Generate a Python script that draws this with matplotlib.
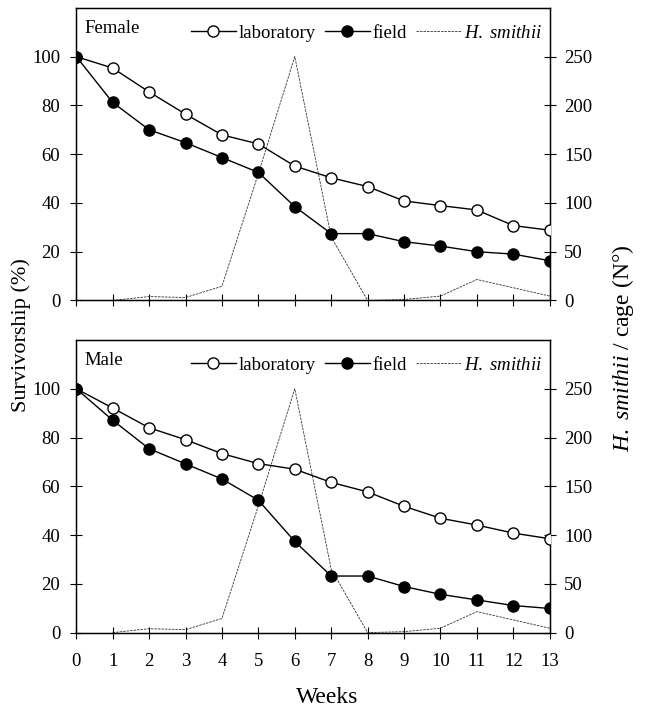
import matplotlib.pyplot as plt

plt.rcParams['font.family'] = ['Liberation Serif', 'DejaVu Serif']
plt.rcParams['mathtext.fontset'] = 'custom'
plt.rcParams['mathtext.rm'] = 'Liberation Serif'
plt.rcParams['mathtext.it'] = 'Liberation Serif:italic'

# Dados
semanas = list(range(14))
fem_lab = [100, 95.3, 85.5, 76.4, 67.9, 64.2, 55.1, 50.3, 46.7, 40.8, 38.9, 37.1, 30.7, 28.8]
fem_campo = [100, 81.2, 70.0, 64.7, 58.6, 52.5, 38.5, 27.4, 27.4, 24.1, 22.3, 20.0, 19.0, 16.3]
mac_lab = [100, 92.1, 84.0, 79.1, 73.4, 69.3, 67.0, 61.6, 57.7, 51.8, 46.9, 44.1, 40.8, 38.5]
mac_campo = [100, 87.1, 75.4, 69.2, 63.0, 54.3, 37.4, 23.2, 23.2, 18.9, 15.7, 13.4, 11.1, 9.9]
semanas_hs = list(range(1, 14))
hs = [0, 4, 3, 14.5, 130, 250, 65, 0, 1, 4.5, 21.5, 13, 4.5]

fig, axes = plt.subplots(2, 1, figsize=(6.46, 7.1), dpi=100, sharex=True)
fig.subplots_adjust(left=0.118, right=0.851, top=0.989, bottom=0.109, hspace=0.135)

paineis = [("Female", fem_lab, fem_campo), ("Male", mac_lab, mac_campo)]
for ax, (nome, lab, campo) in zip(axes, paineis):
    ax2 = ax.twinx()
    l3, = ax2.plot(semanas_hs, hs, color='#333333', lw=0.6, ls=(0, (3, 1.2)))
    ax2.set_ylim(0, 300)
    ax2.set_yticks([0, 50, 100, 150, 200, 250])
    ax2.tick_params(direction='inout', length=9, labelsize=13.5, pad=6)

    l1, = ax.plot(semanas, lab, '-o', color='black', mfc='white', mec='black',
                  ms=8, lw=1, zorder=5)
    l2, = ax.plot(semanas, campo, '-o', color='black', mfc='black',
                  ms=8, lw=1, zorder=5)
    ax.set_zorder(ax2.get_zorder() + 1)
    ax.patch.set_visible(False)
    ax.set_xlim(0, 13)
    ax.set_ylim(0, 120)
    ax.set_yticks([0, 20, 40, 60, 80, 100])
    ax.set_xticks(semanas)
    ax.tick_params(axis='y', direction='inout', length=9, labelsize=13.5, pad=7)
    ax.tick_params(axis='x', direction='inout', length=9, labelsize=13.5, pad=10)
    ax.text(0.018, 0.96, nome, transform=ax.transAxes, fontsize=13.5, va='top')
    ax.legend([l1, l2, l3], ['laboratory', 'field', r'$\it{H.\ smithii}$'],
              loc='upper right', bbox_to_anchor=(1.02, 1.0), ncol=3, frameon=False,
              fontsize=13.5, handlelength=2.4, handletextpad=0.15, columnspacing=0.5)
    for s in ax.spines.values():
        s.set_linewidth(1)

axes[0].tick_params(labelbottom=False)

fig.text(0.033, 0.528, "Survivorship (%)", rotation=90, ha='center', va='center', fontsize=16)
fig.text(0.965, 0.51, r"$\it{H.\ smithii}$ / cage (N°)", rotation=90,
         ha='center', va='center', fontsize=17)
fig.text(0.507, 0.017, "Weeks", ha='center', va='center', fontsize=17)

plt.savefig('out.png', dpi=100)
